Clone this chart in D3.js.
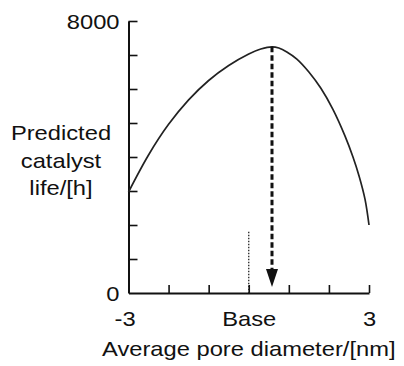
<!DOCTYPE html>
<html>
<head>
<meta charset="utf-8">
<script src="https://cdn.jsdelivr.net/npm/d3@7"></script>
<style>
  html, body { margin: 0; padding: 0; background: #fff; }
  svg { display: block; }
  text { font-family: "Liberation Sans", Arial, Helvetica, sans-serif; fill: #111; }
</style>
</head>
<body>
<svg id="chart" width="404" height="366"></svg>
<script>
// Predicted catalyst life versus average pore diameter (offset from base)
const poreOffset = [-3.0, -2.5, -2.0, -1.5, -1.0, -0.5, 0.0, 0.3, 0.58, 0.75, 0.95, 1.2, 1.5, 1.8, 2.1, 2.4, 2.6, 2.75, 2.9, 3.0];
const catalystLife = [2970, 4060, 4960, 5680, 6250, 6690, 7030, 7175, 7240, 7205, 7090, 6880, 6500, 6020, 5400, 4620, 4000, 3450, 2760, 2000];

const xTickValues = [-3, -2, -1, 0, 1, 2, 3];
const xTickLabels = ["-3", "", "", "Base", "", "", "3"];
const yTickValues = [0, 1000, 2000, 3000, 4000, 5000, 6000, 7000, 8000];
const yTickLabels = ["0", "", "", "", "", "", "", "", "8000"];

const optimumOffset = 0.58;   // arrow marking the predicted optimum
const baseMarkerLife = 1800;  // height of the dotted base marker
const yTitleLines = ["Predicted", "catalyst", "life/[h]"];
const xTitle = "Average pore diameter/[nm]";

const svg = d3.select("#chart");
const x = d3.scaleLinear().domain([-3, 3]).range([128.5, 369]);
const y = d3.scaleLinear().domain([0, 8000]).range([293, 21]);

const fontSize = 21;
const stretch = 1.13;

// x axis, ticks pointing up into the plot
const xAxis = svg.append("g")
  .attr("transform", `translate(0,${y(0)})`)
  .call(d3.axisBottom(x)
    .tickValues(xTickValues)
    .tickSizeInner(-8)
    .tickSizeOuter(0)
    .tickPadding(18)
    .tickFormat((d, i) => xTickLabels[i]));
xAxis.select(".domain").attr("stroke", "#111").attr("stroke-width", 2);
xAxis.selectAll(".tick line").attr("stroke", "#111").attr("stroke-width", 1.6);
xAxis.selectAll(".tick").filter(d => d === -3).select("line").remove();
xAxis.selectAll(".tick text")
  .attr("font-size", fontSize)
  .attr("fill", "#111")
  .attr("y", 0)
  .attr("dy", 33)
  .attr("transform", `scale(${stretch},1)`);
xAxis.selectAll(".tick").filter(d => d === -3).select("text").attr("x", -3.5);

// y axis, ticks pointing right into the plot
const yAxis = svg.append("g")
  .attr("transform", `translate(${x(-3)},0)`)
  .call(d3.axisLeft(y)
    .tickValues(yTickValues)
    .tickSizeInner(-9)
    .tickSizeOuter(0)
    .tickPadding(9)
    .tickFormat((d, i) => yTickLabels[i]));
yAxis.select(".domain").attr("stroke", "#111").attr("stroke-width", 2);
yAxis.selectAll(".tick line").attr("stroke", "#111").attr("stroke-width", 1.6);
yAxis.selectAll(".tick").filter(d => d === 0).select("line").remove();
yAxis.selectAll(".tick text")
  .attr("font-size", fontSize)
  .attr("fill", "#111")
  .attr("dy", "0.38em")
  .attr("transform", `translate(-9,0) scale(${stretch},1) translate(9,0)`);

// response curve
const pts = poreOffset.map((v, i) => [v, catalystLife[i]]);
svg.append("path")
  .datum(pts)
  .attr("fill", "none")
  .attr("stroke", "#222")
  .attr("stroke-width", 1.7)
  .attr("d", d3.line().x(d => x(d[0])).y(d => y(d[1])).curve(d3.curveCatmullRom.alpha(0.5)));

// dotted marker at the base diameter
svg.append("line")
  .attr("x1", x(0)).attr("x2", x(0))
  .attr("y1", y(baseMarkerLife)).attr("y2", y(0))
  .attr("stroke", "#222")
  .attr("stroke-width", 1.3)
  .attr("stroke-dasharray", "1.5,1.5");

// dashed arrow from the curve maximum down to the axis
const peakLife = d3.max(catalystLife);
const tipY = y(0) - 6;
const headH = 18, headW = 12;
svg.append("line")
  .attr("x1", x(optimumOffset)).attr("x2", x(optimumOffset))
  .attr("y1", y(peakLife)).attr("y2", tipY - headH + 2)
  .attr("stroke", "#111")
  .attr("stroke-width", 3)
  .attr("stroke-dasharray", "5.5,3");
svg.append("path")
  .attr("d", `M${x(optimumOffset) - headW / 2},${tipY - headH} L${x(optimumOffset) + headW / 2},${tipY - headH} L${x(optimumOffset)},${tipY} Z`)
  .attr("fill", "#111");

// axis titles
svg.selectAll("text.ytitle")
  .data(yTitleLines)
  .enter().append("text")
  .attr("class", "ytitle")
  .attr("text-anchor", "middle")
  .attr("font-size", fontSize)
  .attr("transform", (d, i) => `translate(61,${140 + i * 27.5}) scale(${stretch},1)`)
  .text(d => d);

svg.append("text")
  .attr("text-anchor", "start")
  .attr("font-size", fontSize)
  .attr("transform", `translate(102,356) scale(${stretch},1)`)
  .text(xTitle);
</script>
</body>
</html>
